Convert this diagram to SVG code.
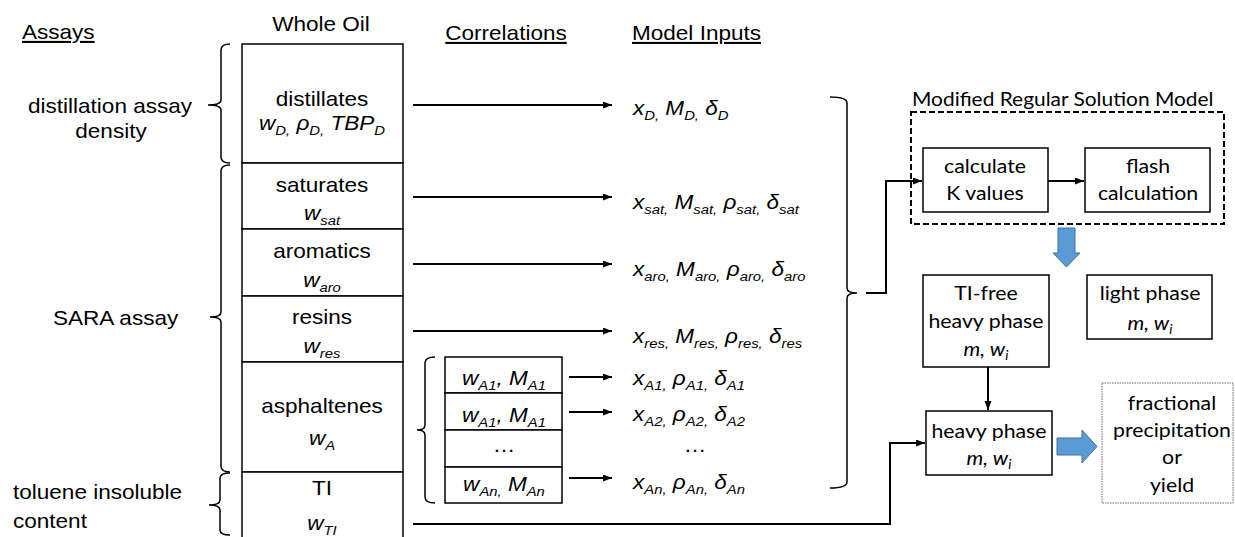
<svg xmlns="http://www.w3.org/2000/svg" width="1235" height="537" viewBox="0 0 1235 537">
<defs>
<style>
.t{font-family:"Liberation Sans",Arial,sans-serif;font-size:20.5px;fill:#000}
.i{font-style:italic}
.s{font-size:13.5px}
.u{text-decoration:underline}
.c{font-family:Lato,"Noto Sans",sans-serif;font-size:19px;fill:#000}
.box{fill:#fff;stroke:#000;stroke-width:1.5}
.ln{fill:none;stroke:#000;stroke-width:2}
.br{fill:none;stroke:#000;stroke-width:1.5}
.blue{fill:#5B9BD5;stroke:#41719C;stroke-width:1}
</style>
<marker id="ah" markerUnits="userSpaceOnUse" markerWidth="10" markerHeight="8" refX="9" refY="3.5" orient="auto">
<path d="M0,0 L9,3.5 L0,7 z" fill="#000"/>
</marker>
</defs>
<rect width="1235" height="537" fill="#fff"/>

<g id="headers">
<text class="t u" transform="translate(22,39) scale(1.1,1)">Assays</text>
<text class="t" transform="translate(321,31) scale(1.1,1)" text-anchor="middle">Whole Oil</text>
<text class="t u" transform="translate(506,40) scale(1.1,1)" text-anchor="middle">Correlations</text>
<text class="t u" transform="translate(632,40) scale(1.1,1)">Model Inputs</text>
</g>

<g id="assay-labels">
<text class="t" transform="translate(110,113) scale(1.1,1)" text-anchor="middle">distillation assay</text>
<text class="t" transform="translate(111,138) scale(1.1,1)" text-anchor="middle">density</text>
<text class="t" transform="translate(53,325) scale(1.1,1)">SARA assay</text>
<text class="t" transform="translate(13,499) scale(1.1,1)">toluene insoluble</text>
<text class="t" transform="translate(13,528) scale(1.1,1)">content</text>
<path class="br" d="M230,44 Q221,44 221,50 L221,100 Q221,105 208,105 Q221,105 221,110 L221,157 Q221,163 230,163"/>
<path class="br" d="M230,165 Q221,165 221,171 L221,312 Q221,317 210,317 Q221,317 221,322 L221,466 Q221,472 230,472"/>
<path class="br" d="M230,473 Q220,473 220,478 L220,500 Q220,505 209,505 Q220,505 220,510 L220,530 Q220,535 230,535"/>
</g>

<g id="distillates">
<rect class="box" x="242" y="44" width="161" height="119"/>
<text class="t" transform="translate(322,106) scale(1.1,1)" text-anchor="middle">distillates</text>
<text class="t i" transform="translate(322,130) scale(1.1,1)" text-anchor="middle">w<tspan class="s" dy="5">D,</tspan><tspan dy="-5"> ρ</tspan><tspan class="s" dy="5">D,</tspan><tspan dy="-5"> TBP</tspan><tspan class="s" dy="5">D</tspan></text>
</g>
<g id="saturates">
<rect class="box" x="242" y="163" width="161" height="66"/>
<text class="t" transform="translate(322,192) scale(1.1,1)" text-anchor="middle">saturates</text>
<text class="t i" transform="translate(322,220) scale(1.1,1)" text-anchor="middle">w<tspan class="s" dy="5">sat</tspan></text>
</g>
<g id="aromatics">
<rect class="box" x="242" y="229" width="161" height="67"/>
<text class="t" transform="translate(322,258) scale(1.1,1)" text-anchor="middle">aromatics</text>
<text class="t i" transform="translate(322,287) scale(1.1,1)" text-anchor="middle">w<tspan class="s" dy="5">aro</tspan></text>
</g>
<g id="resins">
<rect class="box" x="242" y="296" width="161" height="66"/>
<text class="t" transform="translate(322,324) scale(1.1,1)" text-anchor="middle">resins</text>
<text class="t i" transform="translate(322,353) scale(1.1,1)" text-anchor="middle">w<tspan class="s" dy="5">res</tspan></text>
</g>
<g id="asphaltenes">
<rect class="box" x="242" y="362" width="161" height="110"/>
<text class="t" transform="translate(322,413) scale(1.1,1)" text-anchor="middle">asphaltenes</text>
<text class="t i" transform="translate(322,445) scale(1.1,1)" text-anchor="middle">w<tspan class="s" dy="5">A</tspan></text>
</g>
<g id="ti">
<rect class="box" x="242" y="472" width="161" height="75"/>
<text class="t" transform="translate(322,495) scale(1.1,1)" text-anchor="middle">TI</text>
<text class="t i" transform="translate(322,530) scale(1.1,1)" text-anchor="middle">w<tspan class="s" dy="5">TI</tspan></text>
</g>

<g id="correlations">
<path class="br" d="M435,357 Q425,357 425,363 L425,425 Q425,430 417,430 Q425,430 425,435 L425,497 Q425,503 435,503"/>
<rect class="box" x="445" y="357" width="117" height="36"/>
<rect class="box" x="445" y="393" width="117" height="37"/>
<rect class="box" x="445" y="430" width="117" height="37"/>
<rect class="box" x="445" y="467" width="117" height="36"/>
<text class="t i" transform="translate(504,385) scale(1.1,1)" text-anchor="middle">w<tspan class="s" dy="5">A1</tspan><tspan dy="-5">, M</tspan><tspan class="s" dy="5">A1</tspan></text>
<text class="t i" transform="translate(504,422) scale(1.1,1)" text-anchor="middle">w<tspan class="s" dy="5">A1</tspan><tspan dy="-5">, M</tspan><tspan class="s" dy="5">A1</tspan></text>
<text class="t" transform="translate(504,452) scale(1.1,1)" text-anchor="middle">…</text>
<text class="t i" transform="translate(504,491) scale(1.1,1)" text-anchor="middle">w<tspan class="s" dy="5">An,</tspan><tspan dy="-5"> M</tspan><tspan class="s" dy="5">An</tspan></text>
</g>

<g id="model-inputs">
<text class="t i" transform="translate(633,115) scale(1.1,1)">x<tspan class="s" dy="5">D,</tspan><tspan dy="-5"> M</tspan><tspan class="s" dy="5">D,</tspan><tspan dy="-5"> δ</tspan><tspan class="s" dy="5">D</tspan></text>
<text class="t i" transform="translate(633,209) scale(1.1,1)">x<tspan class="s" dy="5">sat,</tspan><tspan dy="-5"> M</tspan><tspan class="s" dy="5">sat,</tspan><tspan dy="-5"> ρ</tspan><tspan class="s" dy="5">sat,</tspan><tspan dy="-5"> δ</tspan><tspan class="s" dy="5">sat</tspan></text>
<text class="t i" transform="translate(633,276) scale(1.1,1)">x<tspan class="s" dy="5">aro,</tspan><tspan dy="-5"> M</tspan><tspan class="s" dy="5">aro,</tspan><tspan dy="-5"> ρ</tspan><tspan class="s" dy="5">aro,</tspan><tspan dy="-5"> δ</tspan><tspan class="s" dy="5">aro</tspan></text>
<text class="t i" transform="translate(633,343) scale(1.1,1)">x<tspan class="s" dy="5">res,</tspan><tspan dy="-5"> M</tspan><tspan class="s" dy="5">res,</tspan><tspan dy="-5"> ρ</tspan><tspan class="s" dy="5">res,</tspan><tspan dy="-5"> δ</tspan><tspan class="s" dy="5">res</tspan></text>
<text class="t i" transform="translate(633,385) scale(1.1,1)">x<tspan class="s" dy="5">A1,</tspan><tspan dy="-5"> ρ</tspan><tspan class="s" dy="5">A1,</tspan><tspan dy="-5"> δ</tspan><tspan class="s" dy="5">A1</tspan></text>
<text class="t i" transform="translate(633,421) scale(1.1,1)">x<tspan class="s" dy="5">A2,</tspan><tspan dy="-5"> ρ</tspan><tspan class="s" dy="5">A2,</tspan><tspan dy="-5"> δ</tspan><tspan class="s" dy="5">A2</tspan></text>
<text class="t" transform="translate(695,452) scale(1.1,1)" text-anchor="middle">…</text>
<text class="t i" transform="translate(633,489) scale(1.1,1)">x<tspan class="s" dy="5">An,</tspan><tspan dy="-5"> ρ</tspan><tspan class="s" dy="5">An,</tspan><tspan dy="-5"> δ</tspan><tspan class="s" dy="5">An</tspan></text>
<path class="br" d="M830,97 Q847,97 847,103 L847,288 Q847,293 857,293 Q847,293 847,298 L847,482 Q847,488 830,488"/>
</g>

<g id="mrs-model">
<rect x="911" y="112" width="313" height="112" fill="none" stroke="#000" stroke-width="2" stroke-dasharray="6 3"/>
<text class="c" transform="translate(912,106) scale(1.1,1)">Modified Regular Solution Model</text>
</g>
<g id="calc-k">
<rect class="box" x="923" y="148" width="125" height="64"/>
<text class="c" transform="translate(985,173) scale(1.12,1)" text-anchor="middle">calculate</text>
<text class="c" transform="translate(985,200) scale(1.12,1)" text-anchor="middle">K values</text>
</g>
<g id="flash">
<rect class="box" x="1085" y="148" width="125" height="64"/>
<text class="c" transform="translate(1148,173) scale(1.12,1)" text-anchor="middle">flash</text>
<text class="c" transform="translate(1148,200) scale(1.12,1)" text-anchor="middle">calculation</text>
</g>
<g id="ti-free">
<rect class="box" x="923" y="275" width="126" height="92"/>
<text class="c" transform="translate(986,300) scale(1.12,1)" text-anchor="middle">TI-free</text>
<text class="c" transform="translate(986,328) scale(1.12,1)" text-anchor="middle">heavy phase</text>
<text class="c i" transform="translate(986,356) scale(1.12,1)" text-anchor="middle">m, w<tspan font-size="12.5" dy="4">i</tspan></text>
</g>
<g id="light-phase">
<rect class="box" x="1087" y="275" width="125" height="64"/>
<text class="c" transform="translate(1150,300) scale(1.12,1)" text-anchor="middle">light phase</text>
<text class="c i" transform="translate(1150,330) scale(1.12,1)" text-anchor="middle">m, w<tspan font-size="12.5" dy="4">i</tspan></text>
</g>
<g id="heavy-phase">
<rect class="box" x="926" y="411" width="126" height="64"/>
<text class="c" transform="translate(989,438) scale(1.12,1)" text-anchor="middle">heavy phase</text>
<text class="c i" transform="translate(989,465) scale(1.12,1)" text-anchor="middle">m, w<tspan font-size="12.5" dy="4">i</tspan></text>
</g>
<g id="result">
<rect x="1102" y="383" width="131" height="120" fill="#fff" stroke="#666" stroke-width="1" stroke-dasharray="1.5 1"/>
<text class="c" transform="translate(1172,410) scale(1.12,1)" text-anchor="middle">fractional</text>
<text class="c" transform="translate(1172,437) scale(1.12,1)" text-anchor="middle">precipitation</text>
<text class="c" transform="translate(1172,464) scale(1.12,1)" text-anchor="middle">or</text>
<text class="c" transform="translate(1172,492) scale(1.12,1)" text-anchor="middle">yield</text>
</g>

<g id="connectors">
<path class="ln" d="M413,105 H612" marker-end="url(#ah)"/>
<path class="ln" d="M413,197 H612" marker-end="url(#ah)"/>
<path class="ln" d="M413,264 H612" marker-end="url(#ah)"/>
<path class="ln" d="M413,331 H612" marker-end="url(#ah)"/>
<path class="ln" d="M569,377 H612" marker-end="url(#ah)"/>
<path class="ln" d="M569,412 H612" marker-end="url(#ah)"/>
<path class="ln" d="M569,478 H612" marker-end="url(#ah)"/>
<path class="ln" d="M413,524 H890 V443 H925" marker-end="url(#ah)"/>
<path class="ln" d="M866,293 H886 V181 H922" marker-end="url(#ah)"/>
<path class="ln" d="M1048,181 H1084" marker-end="url(#ah)"/>
<path class="ln" d="M988,367 V410" marker-end="url(#ah)"/>
<path class="blue" d="M1058,228 H1075 V253 H1080 L1066.5,267 L1053,253 H1058 Z"/>
<path class="blue" d="M1057,438 H1082 V430 L1097,446.5 L1082,463 V455 H1057 Z"/>
</g>
</svg>
